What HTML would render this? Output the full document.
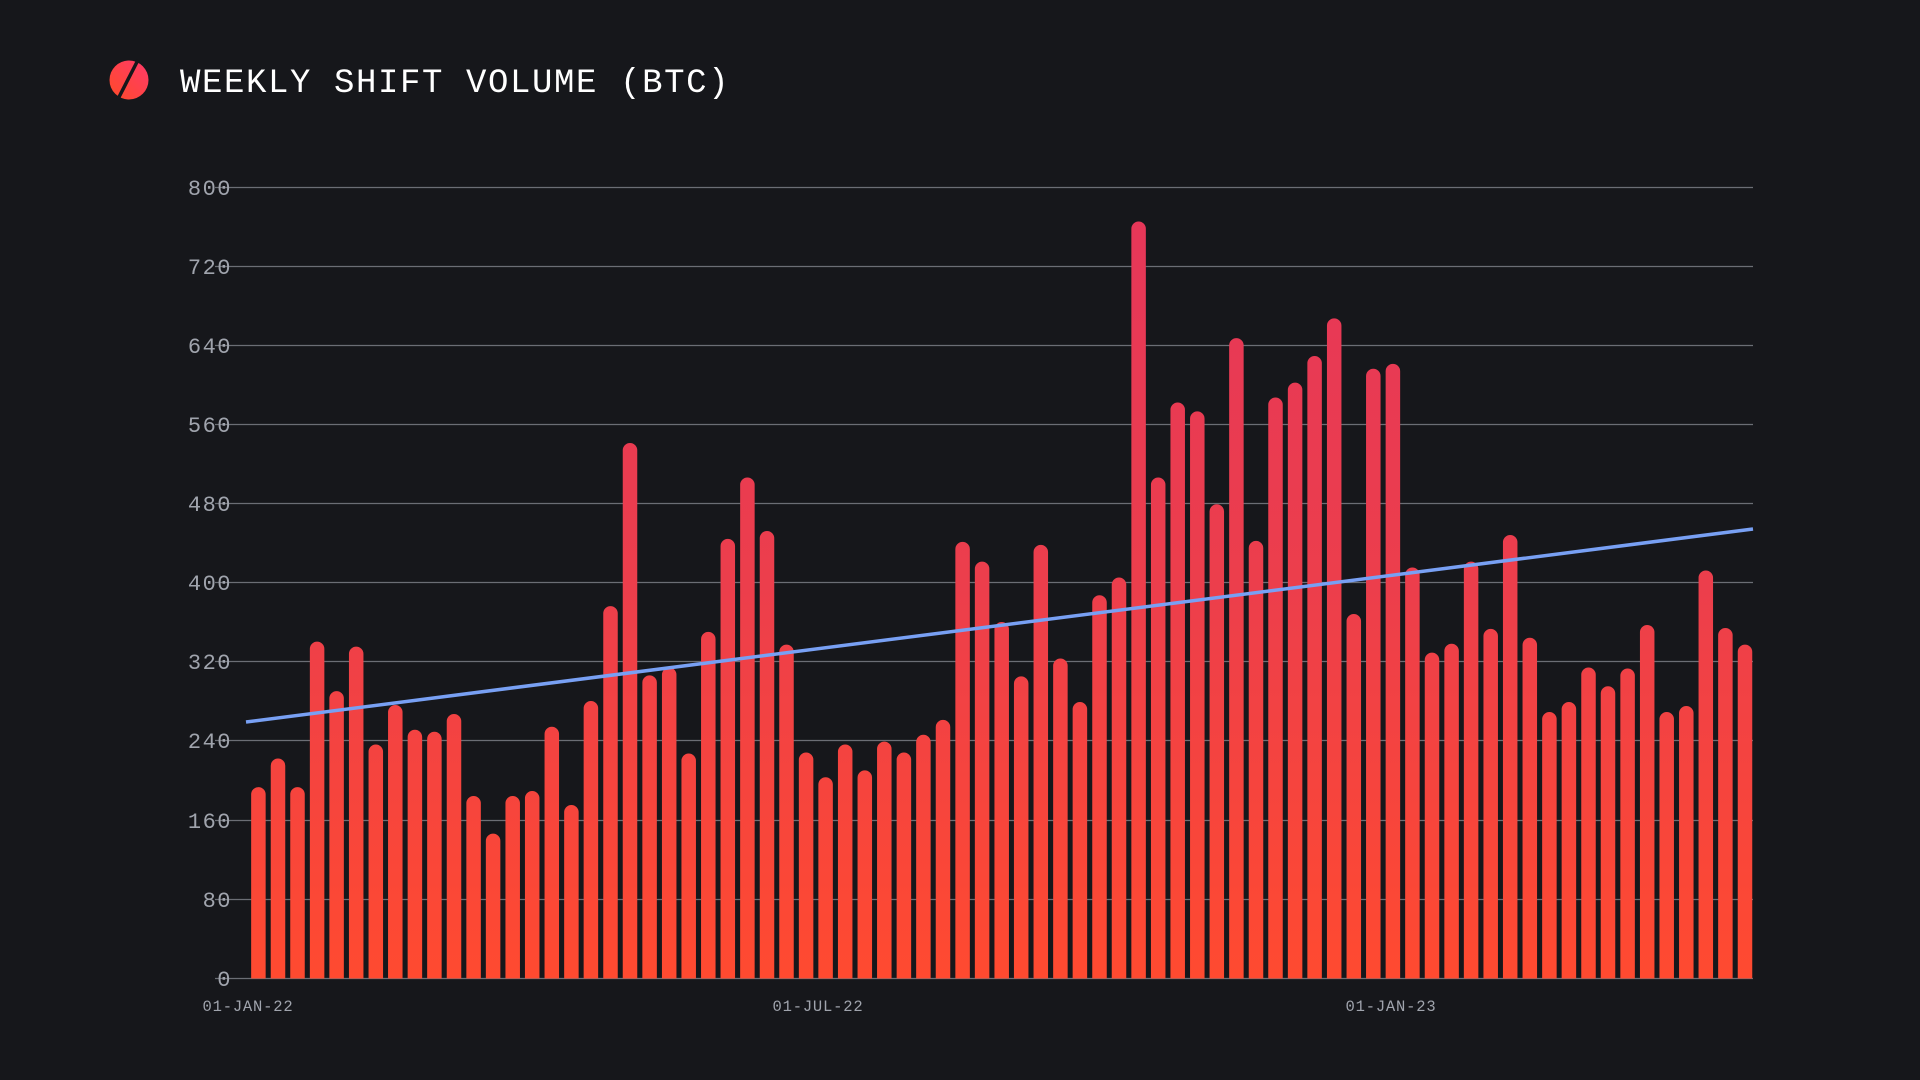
<!DOCTYPE html>
<html><head><meta charset="utf-8"><style>
html,body{margin:0;padding:0;background:#16171b;width:1920px;height:1080px;overflow:hidden}
svg{display:block}
</style></head><body>
<svg width="1920" height="1080" viewBox="0 0 1920 1080" xmlns="http://www.w3.org/2000/svg">
<defs>
<linearGradient id="bg" x1="0" y1="187" x2="0" y2="978" gradientUnits="userSpaceOnUse">
<stop offset="0" stop-color="#e5365a"/><stop offset="0.5" stop-color="#ec3e4c"/><stop offset="1" stop-color="#ff4a30"/></linearGradient>
<linearGradient id="lg" x1="0" y1="1" x2="1" y2="0"><stop offset="0" stop-color="#ff4a28"/><stop offset="1" stop-color="#ff3a6a"/></linearGradient>
<clipPath id="cp"><rect x="0" y="0" width="1920" height="978.5"/></clipPath>
</defs>
<circle cx="129" cy="80" r="19.5" fill="url(#lg)"/>
<line x1="118" y1="99" x2="138" y2="60" stroke="#16171b" stroke-width="3.5"/>
<text x="180" y="92" font-family="Liberation Mono, monospace" font-size="34" fill="#ffffff" letter-spacing="1.6">WEEKLY SHIFT VOLUME (BTC)</text>
<g stroke="#6b6e75" stroke-width="1.2">
<line x1="215" x2="1753" y1="187.5" y2="187.5"/><line x1="215" x2="1753" y1="266.5" y2="266.5"/>
<line x1="215" x2="1753" y1="345.5" y2="345.5"/><line x1="215" x2="1753" y1="424.5" y2="424.5"/>
<line x1="215" x2="1753" y1="503.5" y2="503.5"/><line x1="215" x2="1753" y1="582.5" y2="582.5"/>
<line x1="215" x2="1753" y1="661.5" y2="661.5"/><line x1="215" x2="1753" y1="740.5" y2="740.5"/>
<line x1="215" x2="1753" y1="820.5" y2="820.5"/><line x1="215" x2="1753" y1="899.5" y2="899.5"/>
<line x1="215" x2="1753" y1="978.5" y2="978.5"/>
</g>
<g font-family="Liberation Mono, monospace" font-size="22" fill="#a0a4ad" text-anchor="end" letter-spacing="1.5">
<text x="232" y="195">800</text><text x="232" y="274">720</text><text x="232" y="353">640</text>
<text x="232" y="432">560</text><text x="232" y="511">480</text><text x="232" y="590">400</text>
<text x="232" y="669">320</text><text x="232" y="748">240</text><text x="232" y="828">160</text>
<text x="232" y="907">80</text><text x="232" y="986">0</text>
</g>
<g font-family="Liberation Mono, monospace" font-size="15.5" fill="#a0a4ad" text-anchor="middle" letter-spacing="0.8">
<text x="248" y="1011">01-JAN-22</text><text x="818" y="1011">01-JUL-22</text><text x="1391" y="1011">01-JAN-23</text>
</g>
<path clip-path="url(#cp)" fill="none" stroke="url(#bg)" stroke-width="14.5" stroke-linecap="round" d="
M258.4 995V794.4M278 995V765.7M297.5 995V794.4M317.1 995V648.9M336.6 995V698.4M356.2 995V653.9M375.8 995V751.8M395.3 995V712.3M414.9 995V737M434.4 995V739M454 995V721.2M473.6 995V803.3M493.1 995V840.9M512.7 995V803.3M532.2 995V798.3M551.8 995V734M571.4 995V812.2M590.9 995V708.3M610.5 995V613.4M630 995V450.2M649.6 995V682.6M669.2 995V674.7M688.7 995V760.8M708.3 995V639.1M727.8 995V546.1M747.4 995V484.8M767 995V538.2M786.5 995V651.9M806.1 995V759.8M825.6 995V784.5M845.2 995V751.8M864.8 995V777.6M884.3 995V748.9M903.9 995V759.8M923.4 995V742M943 995V727.1M962.6 995V549.1M982.1 995V568.9M1001.7 995V629.2M1021.2 995V683.6M1040.8 995V552.1M1060.4 995V665.8M1079.9 995V709.3M1099.5 995V602.5M1119 995V584.7M1138.6 995V228.7M1158.2 995V484.8M1177.7 995V409.7M1197.3 995V418.6M1216.8 995V511.5M1236.4 995V345.4M1256 995V548.1M1275.5 995V404.7M1295.1 995V389.9M1314.6 995V363.2M1334.2 995V325.6M1353.8 995V621.3M1373.3 995V376M1392.9 995V371.1M1412.4 995V574.8M1432 995V659.9M1451.6 995V651M1471.1 995V568.9M1490.7 995V636.1M1510.2 995V542.2M1529.8 995V645M1549.4 995V719.2M1568.9 995V709.3M1588.5 995V674.7M1608 995V693.5M1627.6 995V675.7M1647.2 995V632.2M1666.7 995V719.2M1686.3 995V713.3M1705.8 995V577.8M1725.4 995V635.2M1745 995V651.9"/>
<line x1="246" y1="722" x2="1753" y2="529" stroke="#78a0f4" stroke-width="3.5"/>
</svg>
</body></html>
